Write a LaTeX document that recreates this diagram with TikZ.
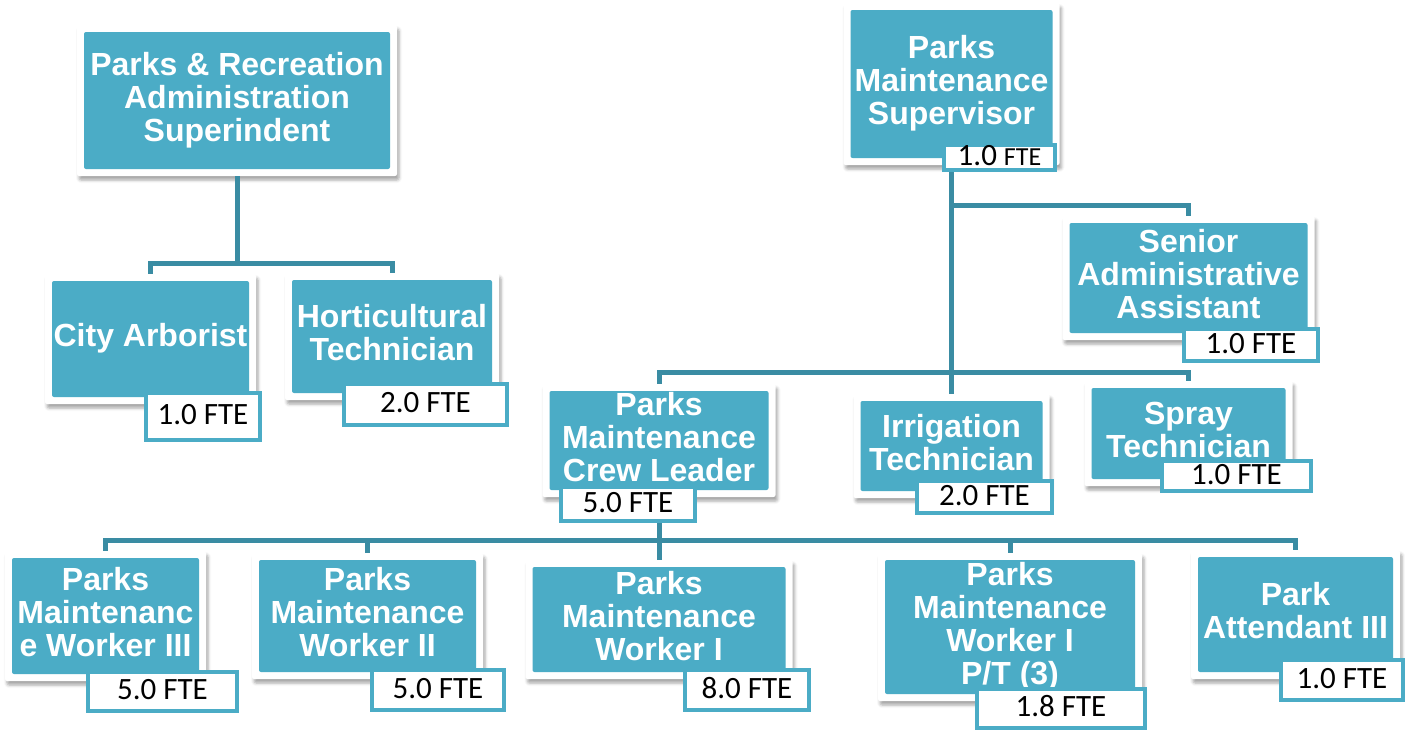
\documentclass[tikz,border=0pt]{standalone}
\usepackage{fontspec}
\setmainfont{Liberation Sans}
\newfontfamily\ftefont{Carlito}
\usepackage{tikz}
\usetikzlibrary{
  positioning,
  shadows,
  shadows.blur
}
\definecolor{posteal}{HTML}{4BACC6}
\definecolor{linkteal}{HTML}{3A8CA3}

\begin{document}
\begin{tikzpicture}[
  x=1pt, y=-1pt,
  post/.style={
    rectangle, fill=white, rounded corners=2pt,
    inner sep=0pt, align=center, text=white, text depth=8pt,
    font=\fontsize{32}{33}\selectfont\bfseries,
    path picture={\fill[posteal]
      ([shift={(7pt,7pt)}]path picture bounding box.south west) rectangle
      ([shift={(-7pt,-7pt)}]path picture bounding box.north east);},
    blur shadow={shadow xshift=2pt, shadow yshift=-4pt,
      shadow blur radius=3pt, shadow opacity=35}
  },
  fte/.style={
    rectangle, draw=posteal, line width=4pt, fill=white,
    inner sep=0pt, text height=16pt, text depth=0pt, text=black,
    font=\ftefont\fontsize{31}{31}\selectfont
  },
  link/.style={draw=linkteal, line width=5pt}
]
\useasboundingbox (0,0) rectangle (1405,731);

% BUS POINTS
\coordinate (leftbus) at (237,263);
\coordinate (adminbus) at (951.5,205);
\coordinate (topbus) at (951.5,372);
\coordinate (crewbus) at (659,540);

% POSITIONS
\node[post, minimum width=320pt, minimum height=151pt] (supt) at (237,100.5)
  {Parks \& Recreation\\Administration\\Superindent};
\node[post, minimum width=211pt, minimum height=130pt] (arbor) at (150.5,339)
  {City Arborist};
\node[post, minimum width=214pt, minimum height=127pt] (horti) at (392,336.5)
  {Horticultural\\Technician};

\node[post, minimum width=216pt, minimum height=162pt] (super) at (951.5,84)
  {Parks\\Maintenance\\Supervisor};
\node[post, minimum width=252pt, minimum height=124pt] (senior) at (1188.5,278)
  {Senior\\Administrative\\Assistant};
\node[post, minimum width=233pt, minimum height=113pt] (crew) at (659,440.5)
  {Parks\\Maintenance\\Crew Leader};
\node[post, minimum width=196pt, minimum height=104pt] (irrig) at (951.5,446)
  {Irrigation\\Technician};
\node[post, minimum width=208pt, minimum height=105pt] (spray) at (1188.5,433.5)
  {Spray\\Technician};

\node[post, minimum width=201pt, minimum height=130pt] (workerC) at (105.5,616)
  {Parks\\Maintenanc\\e Worker III};
\node[post, minimum width=231pt, minimum height=126pt] (workerB) at (367.5,616)
  {Parks\\Maintenance\\Worker II};
\node[post, minimum width=267pt, minimum height=119pt] (workerA) at (659,619.5)
  {Parks\\Maintenance\\Worker I};
\node[post, minimum width=264pt, minimum height=148pt] (workerPT) at (1010,627)
  {Parks\\Maintenance\\Worker I\\P/T (3)};
\node[post, minimum width=209pt, minimum height=129pt] (attend) at (1295.5,614.5)
  {Park\\Attendant III};

% CONNECTORS
\draw[link] (supt.south) -- (leftbus) -| (arbor.north);
\draw[link] (leftbus) -| (horti.north);

\draw[link] (super.south) -- (irrig.north);
\draw[link] (adminbus) -| (senior.north);
\draw[link] (crew.north) |- (topbus) -| (spray.north);

\draw[link] (crew.south) -- (workerA.north);
\draw[link] (workerC.north) |- (crewbus) -| (attend.north);
\draw[link] (workerB.north |- crewbus) -- (workerB.north);
\draw[link] (workerPT.north |- crewbus) -- (workerPT.north);

% FTE TAGS
\node[fte, minimum width=114pt, minimum height=47pt] (arborFTE) at (203,416.5) {1.0 FTE};
\node[fte, minimum width=163pt, minimum height=41pt] (hortiFTE) at (425.5,404.5) {2.0 FTE};
\node[fte, minimum width=111pt, minimum height=25pt] (superFTE) at (999.5,157.5)
  {1.0 {\fontsize{26}{26}\selectfont FTE}};
\node[fte, minimum width=134pt, minimum height=32pt] (seniorFTE) at (1251,345) {1.0 FTE};
\node[fte, minimum width=134pt, minimum height=34pt] (crewFTE) at (628,504) {5.0 FTE};
\node[fte, minimum width=135pt, minimum height=32pt] (irrigFTE) at (984.5,497) {2.0 FTE};
\node[fte, minimum width=149pt, minimum height=30pt] (sprayFTE) at (1236.5,476) {1.0 FTE};
\node[fte, minimum width=149pt, minimum height=39pt] (workerCFTE) at (162.5,691.5) {5.0 FTE};
\node[fte, minimum width=132pt, minimum height=40pt] (workerBFTE) at (438,690) {5.0 FTE};
\node[fte, minimum width=124pt, minimum height=40pt] (workerAFTE) at (747,690) {8.0 FTE};
\node[fte, minimum width=168pt, minimum height=39pt] (workerPTFTE) at (1061,708.5) {1.8 FTE};
\node[fte, minimum width=122pt, minimum height=40pt] (attendFTE) at (1342,680) {1.0 FTE};

\end{tikzpicture}
\end{document}
